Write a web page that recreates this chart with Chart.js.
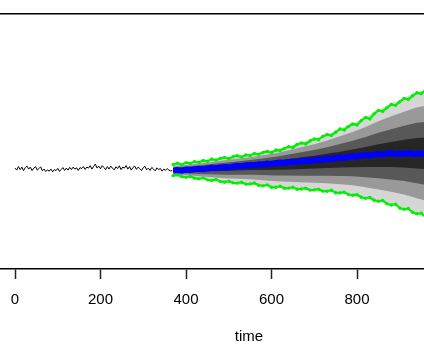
<!DOCTYPE html>
<html>
<head>
<meta charset="utf-8">
<script src="https://cdn.jsdelivr.net/npm/chart.js@4/dist/chart.umd.min.js"></script>
<style>
  html, body { margin: 0; padding: 0; overflow: hidden; background: #fff; width: 424px; height: 354px; }
  #c { position: absolute; left: 0; top: 0; }
</style>
</head>
<body>
<canvas id="c" width="498" height="354"></canvas>
<script>
// ---- data ----
const xTicks = [0, 200, 400, 600, 800];

// observed series, t = 0, 4, 8, ... 368
const histStart = 0, histStep = 4;
const histValues = [
  0.05, -0.15, 0.20, -0.10, 0.15, -0.20, 0.10, 0.25, -0.05, 0.15,
  -0.20, 0.05, 0.20, -0.15, 0.00, 0.18, -0.22, -0.05, -0.30, -0.12,
  -0.25, -0.05, -0.32, -0.10, -0.20, 0.02, -0.28, -0.08, 0.10, -0.18,
  0.05, -0.15, 0.12, -0.10, 0.15, -0.05, 0.08, -0.18, 0.10, 0.00,
  0.20, -0.08, 0.15, 0.05, 0.30, -0.05, 0.22, 0.45, 0.05, 0.25,
  -0.02, 0.30, 0.10, -0.10, 0.20, -0.05, 0.25, 0.05, -0.12, 0.18,
  0.00, 0.28, -0.10, 0.15, 0.05, 0.30, -0.05, 0.20, -0.15, 0.12,
  0.25, -0.08, 0.15, 0.00, -0.20, 0.10, 0.22, -0.12, 0.05, -0.18,
  0.12, -0.05, -0.22, 0.08, -0.10, 0.02, -0.25, -0.05, -0.18, 0.00,
  -0.15, -0.22, -0.20
];

// forecast, t = 370, 380, ... 970
const fcStart = 370, fcStep = 10;
const medianValues = [
  -0.20, -0.15, -0.20, -0.10, -0.14, -0.05, -0.01, -0.06, 0.02, 0.08,
  0.03, 0.12, 0.16, 0.12, 0.22, 0.28, 0.24, 0.33, 0.36, 0.33,
  0.43, 0.42, 0.50, 0.47, 0.55, 0.60, 0.56, 0.66, 0.68, 0.64,
  0.76, 0.80, 0.75, 0.86, 0.90, 0.86, 0.97, 0.95, 1.05, 1.10,
  1.06, 1.16, 1.25, 1.20, 1.32, 1.35, 1.30, 1.42, 1.46, 1.40,
  1.52, 1.55, 1.44, 1.50, 1.46, 1.54, 1.48, 1.45, 1.52, 1.47, 1.50
];
const upperValues = [
  0.40, 0.55, 0.38, 0.60, 0.52, 0.70, 0.62, 0.80, 0.74, 0.95,
  0.85, 1.00, 1.12, 0.98, 1.18, 1.28, 1.15, 1.36, 1.30, 1.50,
  1.42, 1.60, 1.72, 1.58, 1.85, 1.80, 2.00, 2.18, 2.10, 2.40,
  2.55, 2.45, 2.75, 2.95, 2.88, 3.20, 3.40, 3.30, 3.62, 3.95,
  3.85, 4.20, 4.45, 4.35, 4.78, 5.10, 4.95, 5.45, 5.80, 5.70,
  6.05, 6.40, 6.30, 6.65, 7.00, 6.90, 7.25, 7.55, 7.45, 7.80, 7.90
];
const lowerValues = [
  -0.70, -0.62, -0.80, -0.86, -0.78, -0.95, -1.02, -0.92, -1.12, -1.18,
  -1.08, -1.28, -1.35, -1.25, -1.42, -1.45, -1.36, -1.55, -1.52, -1.44,
  -1.66, -1.72, -1.62, -1.85, -1.86, -1.76, -1.95, -1.94, -1.86, -2.05,
  -2.03, -1.95, -2.14, -2.12, -2.05, -2.24, -2.25, -2.16, -2.40, -2.42,
  -2.34, -2.58, -2.65, -2.60, -2.85, -2.95, -2.88, -3.15, -3.25, -3.18,
  -3.50, -3.62, -3.55, -3.92, -4.05, -3.98, -4.35, -4.50, -4.45, -4.80, -4.90
];

// fan bands, t = 370, 400, ... 970 (inner -> outer)
const bandStart = 370, bandStep = 30;
const band1Upper = [-0.05,0.04,0.13,0.24,0.35,0.46,0.58,0.70,0.81,0.96,1.12,1.28,1.48,1.69,1.90,2.14,2.42,2.65,2.88,3.04,3.10];
const band1Lower = [-0.33,-0.31,-0.29,-0.27,-0.24,-0.20,-0.15,-0.13,-0.12,-0.08,-0.05,0.01,0.06,0.10,0.13,0.15,0.16,0.15,0.12,0.02,-0.10];
const band2Upper = [0.10,0.21,0.31,0.45,0.59,0.72,0.85,1.01,1.18,1.40,1.63,1.86,2.13,2.46,2.77,3.15,3.57,3.93,4.27,4.57,4.70];
const band2Lower = [-0.45,-0.49,-0.53,-0.56,-0.60,-0.60,-0.60,-0.64,-0.68,-0.69,-0.70,-0.70,-0.70,-0.73,-0.77,-0.85,-0.96,-1.08,-1.24,-1.47,-1.70];
const band3Upper = [0.25,0.37,0.50,0.67,0.82,0.98,1.13,1.33,1.54,1.83,2.13,2.43,2.79,3.23,3.65,4.15,4.72,5.21,5.67,6.11,6.30];
const band3Lower = [-0.58,-0.66,-0.76,-0.85,-0.95,-1.00,-1.05,-1.15,-1.25,-1.30,-1.36,-1.41,-1.46,-1.56,-1.66,-1.85,-2.07,-2.30,-2.59,-2.95,-3.30];
const band4Upper = [0.40,0.54,0.68,0.88,1.06,1.24,1.40,1.64,1.90,2.26,2.64,3.00,3.44,4.00,4.52,5.15,5.87,6.49,7.06,7.64,7.90];
const band4Lower = [-0.70,-0.84,-0.99,-1.14,-1.30,-1.40,-1.50,-1.66,-1.81,-1.91,-2.01,-2.11,-2.22,-2.38,-2.55,-2.84,-3.18,-3.52,-3.95,-4.43,-4.90];

// ---- build ----
const grid = (start, step, n) => Array.from({length: n}, (_, i) => start + i * step);
const pts = (times, vals) => vals.map((v, i) => ({x: times[i], y: v}));
const histTime = grid(histStart, histStep, histValues.length);
const fcTime = grid(fcStart, fcStep, medianValues.length);
const bandTime = grid(bandStart, bandStep, band1Upper.length);

const bandColors = ['#262626', '#585858', '#999999', '#d6d6d6'];
const bands = [[band1Upper, band1Lower], [band2Upper, band2Lower], [band3Upper, band3Lower], [band4Upper, band4Lower]];

const datasets = [
  {data: pts(histTime, histValues), borderColor: '#000', borderWidth: 1, pointRadius: 0, fill: false, order: 0},
  {data: pts(fcTime, medianValues), borderColor: '#0000ff', borderWidth: 6, pointRadius: 0, fill: false, order: 1},
  {data: pts(fcTime, upperValues), borderColor: '#00f000', backgroundColor: '#00f000', borderWidth: 2.2, pointRadius: 1.7, pointBorderWidth: 0, fill: false, order: 2},
  {data: pts(fcTime, lowerValues), borderColor: '#00f000', backgroundColor: '#00f000', borderWidth: 2.2, pointRadius: 1.7, pointBorderWidth: 0, fill: false, order: 2}
];
bands.forEach((b, k) => {
  const idx = datasets.length;
  datasets.push({data: pts(bandTime, b[0]), borderWidth: 0, pointRadius: 0, backgroundColor: bandColors[k], fill: idx + 1, order: 20 + k});
  datasets.push({data: pts(bandTime, b[1]), borderWidth: 0, pointRadius: 0, fill: false, order: 20 + k});
});

const FONT = 'Liberation Sans, Arial, Helvetica, sans-serif';
const xMin = -35.1, xMax = 1129.8;
const noSidePad = s => { s.paddingLeft = 0; s.paddingRight = 0; };

new Chart(document.getElementById('c'), {
  type: 'line',
  data: {datasets},
  options: {
    responsive: false,
    animation: false,
    events: [],
    layout: {autoPadding: false, padding: {top: 14, left: 0, right: 0, bottom: 0}},
    plugins: {legend: {display: false}, tooltip: {enabled: false}},
    elements: {line: {tension: 0}},
    scales: {
      x: {
        type: 'linear', position: 'bottom', min: xMin, max: xMax,
        afterBuildTicks: s => { s.ticks = xTicks.map(v => ({value: v})); },
        afterFit: noSidePad,
        grid: {display: true, drawOnChartArea: false, drawTicks: true, tickLength: 10, tickColor: '#222', tickWidth: 1.5},
        border: {display: true, color: '#000', width: 1.5},
        ticks: {color: '#000', font: {family: FONT, size: 15}, padding: 12, maxRotation: 0, autoSkip: false},
        title: {display: true, text: 'time', color: '#000', font: {family: FONT, size: 15}, padding: {top: 7, bottom: 8}}
      },
      x2: {
        type: 'linear', position: 'top', min: xMin, max: xMax,
        afterFit: noSidePad,
        grid: {display: false, drawTicks: false},
        ticks: {display: false},
        border: {display: true, color: '#000', width: 1.5}
      },
      y: {type: 'linear', display: false, min: -10, max: 15.4}
    }
  }
});
</script>
</body>
</html>
